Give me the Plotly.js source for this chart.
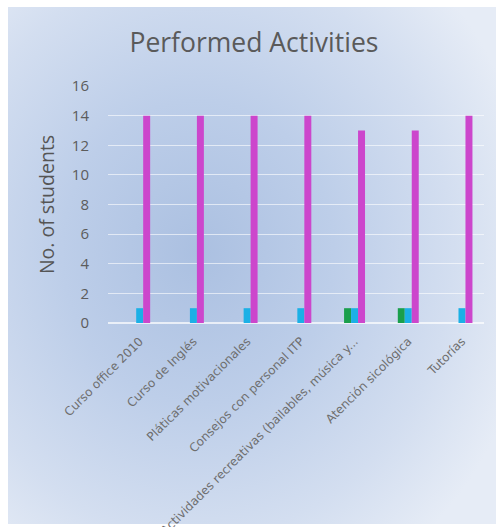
<!DOCTYPE html>
<html>
<head>
<meta charset="utf-8">
<script src="https://cdn.plot.ly/plotly-3.0.1.min.js"></script>
<style>
  html, body { margin: 0; padding: 0; background: #ffffff; }
  #wrap { position: relative; width: 496px; height: 527px; overflow: hidden; }
  #panel {
    position: absolute; left: 8px; top: 7px; width: 488px; height: 517px;
    background: radial-gradient(ellipse 340px 380px at 190px 245px,
      #abc0e1 0%, #bdcee9 40%, #d3def0 75%, #e6ecf6 100%);
  }
  #chart { position: absolute; left: 0; top: 0; width: 496px; height: 527px; }
</style>
</head>
<body>
<div id="wrap">
  <div id="panel"></div>
  <div id="chart"></div>
</div>
<script>
// Activities and number of students per response group
const activities = [
  "Curso office 2010",
  "Curso de Inglés",
  "Pláticas motivacionales",
  "Consejos con personal ITP",
  "Actividades recreativas (bailables, música y...",
  "Atención sicológica",
  "Tutorías"
];
const seriesA = [0, 0, 0, 0, 1, 1, 0];
const seriesB = [1, 1, 1, 1, 1, 1, 1];
const seriesC = [14, 14, 14, 14, 13, 13, 14];

const yTicks = [0, 2, 4, 6, 8, 10, 12, 14, 16];

const traces = [
  { type: "bar", x: activities, y: seriesA, name: "Serie 1", marker: { color: "#1a9f4c" } },
  { type: "bar", x: activities, y: seriesB, name: "Serie 2", marker: { color: "#1bb0e6" } },
  { type: "bar", x: activities, y: seriesC, name: "Serie 3", marker: { color: "#cc46cc" } }
];

const baseFont = "'Open Sans', 'DejaVu Sans', sans-serif";

const layout = {
  width: 496,
  height: 527,
  paper_bgcolor: "rgba(0,0,0,0)",
  plot_bgcolor: "rgba(0,0,0,0)",
  showlegend: false,
  barmode: "group",
  bargap: 0.61,
  bargroupgap: 0,
  margin: { l: 108, r: 12, t: 86, b: 204 },
  font: { family: baseFont, color: "#595959" },
  title: {
    text: "Performed Activities",
    font: { family: baseFont, size: 26.5, color: "#5a5a5a" },
    x: 0.512, xref: "container", xanchor: "center",
    y: 0.918, yref: "container", yanchor: "middle"
  },
  xaxis: {
    type: "category",
    range: [-0.59, 6.41],
    tickangle: -45,
    tickfont: { family: "'DejaVu Sans', sans-serif", size: 12, color: "#6e6e6e" },
    showgrid: false,
    showline: false,
    zeroline: false,
    ticks: "",
    ticklabelstandoff: 8,
    automargin: false
  },
  yaxis: {
    range: [0, 16],
    tickvals: yTicks,
    ticktext: yTicks.map(String),
    tickfont: { family: baseFont, size: 15, color: "#5c5c5c" },
    showgrid: true,
    gridcolor: "rgba(255,255,255,0.6)",
    gridwidth: 1.2,
    zeroline: true,
    zerolinecolor: "rgba(255,255,255,0.7)",
    zerolinewidth: 1.4,
    showline: false,
    ticks: "",
    ticklabelstandoff: 18,
    automargin: false,
    title: {
      text: "No. of students",
      font: { family: baseFont, size: 19.5, color: "#555555" },
      standoff: 12
    }
  }
};

Plotly.newPlot("chart", traces, layout, { displayModeBar: false, staticPlot: true });
</script>
</body>
</html>
